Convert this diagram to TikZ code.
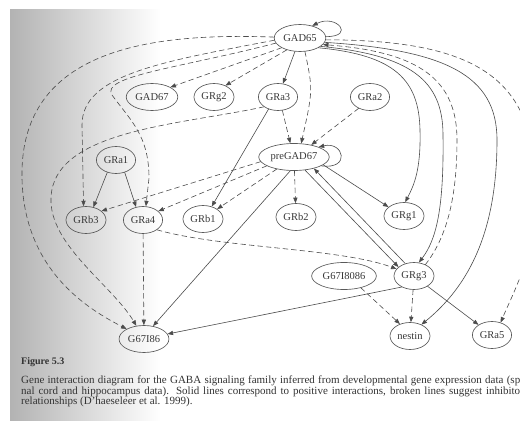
\documentclass[tikz,border=0pt]{standalone}
\usepackage{fontspec}
\setmainfont{Liberation Serif}
\usetikzlibrary{arrows.meta,shapes.geometric}
\begin{document}
\begin{tikzpicture}[x=1pt, y=-1pt, line join=round, line cap=round,
    >={Triangle[length=5.5pt, width=4.2pt]},
    gene/.style={ellipse, draw=black!65, line width=0.65pt, text=black!78,
      font=\fontsize{10.5}{12}\selectfont, inner xsep=1.6pt, inner ysep=0pt, minimum height=27pt},
    activ/.style={->, draw=black!70, line width=0.6pt},
    inhib/.style={activ, dash pattern=on 5pt off 3.5pt},
    capt/.style={anchor=base west, inner sep=0pt, text=black!80, font=\fontsize{11}{12}\selectfont}]
\useasboundingbox (0,0) rectangle (520,425);
\clip (0,0) rectangle (520,425);
% page with the shadow of the binding
\fill[white] (0,0) rectangle (520,425);
\shade[left color=black!30, right color=white] (10,10) rectangle (160,420);

\path
  (300,38)  node[gene] (GAD65) {GAD65}
  (152,97)  node[gene] (GAD67) {GAD67}
  (214,97)  node[gene] (GRg2) {GRg2}
  (278,97)  node[gene] (GRa3) {GRa3}
  (370,97)  node[gene] (GRa2) {GRa2}
  (116,160) node[gene] (GRa1) {GRa1}
  (294,157) node[gene] (preGAD67) {preGAD67}
  (86,220)  node[gene] (GRb3) {GRb3}
  (143,220) node[gene] (GRa4) {GRa4}
  (203,219) node[gene] (GRb1) {GRb1}
  (296,217) node[gene] (GRb2) {GRb2}
  (404,216) node[gene] (GRg1) {GRg1}
  (344,276) node[gene] (G67I8086) {G67I8086}
  (414,276) node[gene] (GRg3) {GRg3}
  (144,339) node[gene] (G67I86) {G67I86}
  (410,336) node[gene] (nestin) {nestin}
  (492,335) node[gene] (GRa5) {GRa5};

% solid lines: positive interactions
\foreach \a/\b in {GAD65/GRa3, GRa1.-125/GRb3.60, GRa1.-55/GRa4.118, GRa3.-128/GRb1.55,
    preGAD67.-15/GRg1.150, preGAD67.-50/GRg3.150, GRg3.125/preGAD67.-30,
    preGAD67.-105/G67I86.55, GRg3.-138/G67I86.12, GRg3/GRa5}
  \draw[activ] (\a) -- (\b);
% broken lines: inhibitory relationships
\foreach \a/\b in {GAD65.208/GAD67.28, GAD65.222/GRg2.45, GRa3.-72/preGAD67.105,
    GRa2.-135/preGAD67.35, preGAD67/GRb2, preGAD67.188/GRb3.30, preGAD67.198/GRa4.30,
    preGAD67.215/GRb1.35, GRa4/G67I86, GRg3/nestin, G67I8086.-35/nestin.130}
  \draw[inhib] (\a) -- (\b);

% self loops
\draw[activ] (GAD65.3) .. controls +(30,0) and +(24,-12) .. (GAD65.45);
\draw[activ] (preGAD67.-18) .. controls +(30,4) and +(25,-6) .. (preGAD67.22);

% long curves on the left
\draw[inhib] (GAD65.-70) .. controls (313,90) .. (preGAD67.62);
\draw[inhib] (GAD65.178) .. controls (160,33) and (25,45) .. (22,170)
  .. controls (20,270) and (90,310) .. (G67I86.150);
\draw[inhib] (GAD65.185) .. controls (160,62) and (82,75) .. (82,125) -- (GRb3.100);
\draw[inhib] (GAD65.192) .. controls (180,68) and (100,76) .. (112,95)
  .. controls (130,120) and (149,135) .. (149,178) -- (GRa4.78);
\draw[inhib] (GRa3.215) .. controls (180,125) and (53,130) .. (51,198)
  .. controls (49,245) and (112,285) .. (G67I86.120);
\draw[inhib] (GRa4.-35) .. controls (220,248) and (340,248) .. (GRg3.158);

% long curves on the right
\draw[activ] (GAD65.-28) .. controls (395,55) and (419,80) .. (420,130)
  .. controls (421,170) and (414,185) .. (GRg1.85);
\draw[activ] (GAD65.-22) .. controls (410,55) and (443,80) .. (443,135)
  .. controls (444,210) and (436,240) .. (GRg3.70);
\draw[inhib] (GRg3.45) .. controls (446,238) and (457,200) .. (457,140)
  .. controls (457,80) and (420,52) .. (GAD65.-16);
\draw[activ] (GAD65.-10) .. controls (445,50) and (497,75) .. (497,140)
  .. controls (497,230) and (470,285) .. (nestin.45);
\draw[inhib] (GAD65.-4) .. controls (480,40) and (540,80) .. (535,200)
  .. controls (535,255) and (512,295) .. (GRa5.55);

% caption
\node[capt, font=\fontsize{10}{12}\selectfont\bfseries] (fig) at (21,364) {Figure 5.3};
\node[capt] (capA) at (21,383) {\makebox[499pt][s]{Gene interaction diagram for the GABA signaling family inferred from developmental gene expression data (sp}};
\node[capt] (capB) at (21,394) {\makebox[499pt][s]{nal cord and hippocampus data). Solid lines correspond to positive interactions, broken lines suggest inhibito}};
\node[capt] (capC) at (21,404.5) {relationships (D'haeseleer et al. 1999).};
\end{tikzpicture}
\end{document}
